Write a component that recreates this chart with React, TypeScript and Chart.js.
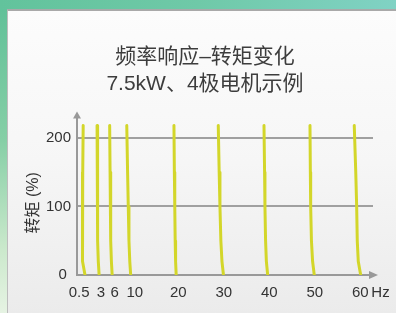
import React, { useEffect, useRef } from 'react';
import { Chart, registerables } from 'chart.js';

Chart.register(...registerables);

// ---- text ----
const TITLE_LINES = ['频率响应–转矩变化', '7.5kW、4极电机示例'];
const Y_TITLE = '转矩 (%)';
const X_UNIT = 'Hz';

// ---- ticks ----
const X_TICKS = [0.5, 3, 6, 10, 20, 30, 40, 50, 60];
const Y_TICKS = [0, 100, 200];

// ---- torque-speed curves (x = frequency in Hz, read at these torque levels in %) ----
const TORQUE_LEVELS = [218, 150, 100, 50, 20, 0];
const CURVE_0_5HZ = [-0.9, -1.0, -1.05, -1.1, -1.0, -0.5];
const CURVE_3HZ = [2.15, 2.2, 2.28, 2.33, 2.42, 2.6];
const CURVE_6HZ = [4.92, 5.01, 5.1, 5.19, 5.3, 5.47];
const CURVE_10HZ = [8.68, 8.86, 9.01, 9.16, 9.34, 9.54];
const CURVE_20HZ = [19.05, 19.14, 19.23, 19.32, 19.41, 19.54];
const CURVE_30HZ = [28.79, 28.99, 29.16, 29.36, 29.6, 29.93];
const CURVE_40HZ = [38.84, 38.97, 39.05, 39.19, 39.36, 39.65];
const CURVE_50HZ = [48.95, 49.03, 49.1, 49.27, 49.52, 49.89];
const CURVE_60HZ = [58.68, 59.01, 59.21, 59.34, 59.56, 60.09];

const CURVES = [
  CURVE_0_5HZ, CURVE_3HZ, CURVE_6HZ, CURVE_10HZ, CURVE_20HZ,
  CURVE_30HZ, CURVE_40HZ, CURVE_50HZ, CURVE_60HZ,
];

const FONT_FAMILY = '"Liberation Sans", "Noto Sans CJK SC", sans-serif';
const AXIS_COLOR = '#999999';
const TEXT_COLOR = '#333333';
const CURVE_COLOR = '#d3d62a';

const axisArrows = {
  id: 'axisArrows',
  afterDraw(chart: any) {
    const { ctx, chartArea } = chart;
    const { left, right, top, bottom } = chartArea;
    ctx.save();
    ctx.fillStyle = AXIS_COLOR;
    ctx.strokeStyle = AXIS_COLOR;
    ctx.lineWidth = 2;
    // y arrow
    ctx.beginPath();
    ctx.moveTo(left, top - 6);
    ctx.lineTo(left - 4, top + 1);
    ctx.lineTo(left + 4, top + 1);
    ctx.closePath();
    ctx.fill();
    // x arrow
    ctx.beginPath();
    ctx.moveTo(right + 5, bottom);
    ctx.lineTo(right - 4, bottom - 4);
    ctx.lineTo(right - 4, bottom + 4);
    ctx.closePath();
    ctx.fill();
    // unit label
    ctx.fillStyle = TEXT_COLOR;
    ctx.font = `15px ${FONT_FAMILY}`;
    ctx.textAlign = 'center';
    ctx.textBaseline = 'middle';
    ctx.fillText(X_UNIT, right + 7.5, bottom + 9 + 9);
    ctx.restore();
  },
};

export default function App() {
  const ref = useRef<HTMLCanvasElement>(null);

  useEffect(() => {
    if (!ref.current) return;
    const datasets = CURVES.map((xs) => ({
      data: xs.map((x, i) => ({ x, y: TORQUE_LEVELS[i] })),
      showLine: true,
      borderColor: CURVE_COLOR,
      backgroundColor: CURVE_COLOR,
      borderWidth: 3,
      pointRadius: 0,
      tension: 0,
      borderJoinStyle: 'round',
      borderCapStyle: 'round',
      fill: false,
    }));
    const chart = new Chart(ref.current, {
      type: 'scatter',
      data: { datasets },
      options: {
        responsive: false,
        animation: false,
        layout: { padding: { left: 14, right: 0, top: 0, bottom: 0 } },
        plugins: {
          legend: { display: false },
          tooltip: { enabled: false },
          title: {
            display: true,
            text: TITLE_LINES,
            color: '#3d3d3d',
            font: { family: FONT_FAMILY, size: 21, weight: 'normal', lineHeight: 1.29 },
            padding: { top: 43.5, bottom: 19.7 },
          },
        },
        scales: {
          x: {
            type: 'linear',
            min: -2.26,
            max: 62.8,
            afterBuildTicks: (s: any) => {
              s.ticks = X_TICKS.map((v) => ({ value: v }));
            },
            afterFit: (s: any) => {
              s.height = 38;
            },
            ticks: {
              autoSkip: false,
              maxRotation: 0,
              padding: 9,
              color: TEXT_COLOR,
              font: { family: FONT_FAMILY, size: 15 },
              callback: (v: any) => (v === 0.5 ? '0.5     ' : v === 10 ? ' 10' : String(v)),
            },
            grid: { display: false, drawTicks: false },
            border: { display: true, color: AXIS_COLOR, width: 2 },
          },
          y: {
            type: 'linear',
            min: 0,
            max: 230,
            afterBuildTicks: (s: any) => {
              s.ticks = Y_TICKS.map((v) => ({ value: v }));
            },
            afterFit: (s: any) => {
              s.width = 63;
            },
            ticks: {
              padding: 6,
              color: TEXT_COLOR,
              font: { family: FONT_FAMILY, size: 15 },
              callback: (v: any) => (v === 0 ? '0 ' : String(v)),
            },
            grid: { color: '#a0a0a0', lineWidth: 2, drawTicks: false },
            border: { display: true, color: AXIS_COLOR, width: 2 },
            title: {
              display: true,
              text: Y_TITLE + '   ',
              color: TEXT_COLOR,
              font: { family: FONT_FAMILY, size: 16 },
              padding: { top: 10.4, bottom: 0 },
            },
          },
          yR: {
            type: 'linear',
            position: 'right',
            display: true,
            grid: { display: false, drawTicks: false },
            border: { display: false },
            ticks: { display: false },
            afterFit: (s: any) => {
              s.width = 23;
            },
          },
        },
      },
      plugins: [axisArrows],
    } as any);
    return () => chart.destroy();
  }, []);

  return (
    <div
      style={{
        position: 'fixed',
        left: 0,
        top: 0,
        width: 396,
        height: 313,
        overflow: 'hidden',
        background: 'linear-gradient(to bottom, #5fc098 0%, #86cfa6 45%, #cbe9cc 80%, #e6f3e3 100%)',
      }}
    >
      <div
        style={{
          position: 'absolute',
          left: 0,
          top: 0,
          width: 396,
          height: 10,
          background: 'linear-gradient(to right, #62c39c 0%, #6fc9a8 50%, #80d2c4 100%)',
        }}
      />
      <div
        style={{
          position: 'absolute',
          left: 7,
          top: 9,
          right: 0,
          bottom: 0,
          boxSizing: 'border-box',
          borderTop: '2px solid #a9a9a9',
          borderLeft: '1px solid #bdbdbd',
          background: 'linear-gradient(to bottom, #fcfcfc 0%, #f6f6f6 50%, #ebebeb 100%)',
        }}
      />
      <canvas
        ref={ref}
        width={396}
        height={313}
        style={{ position: 'absolute', left: 0, top: 0, display: 'block' }}
      />
    </div>
  );
}
